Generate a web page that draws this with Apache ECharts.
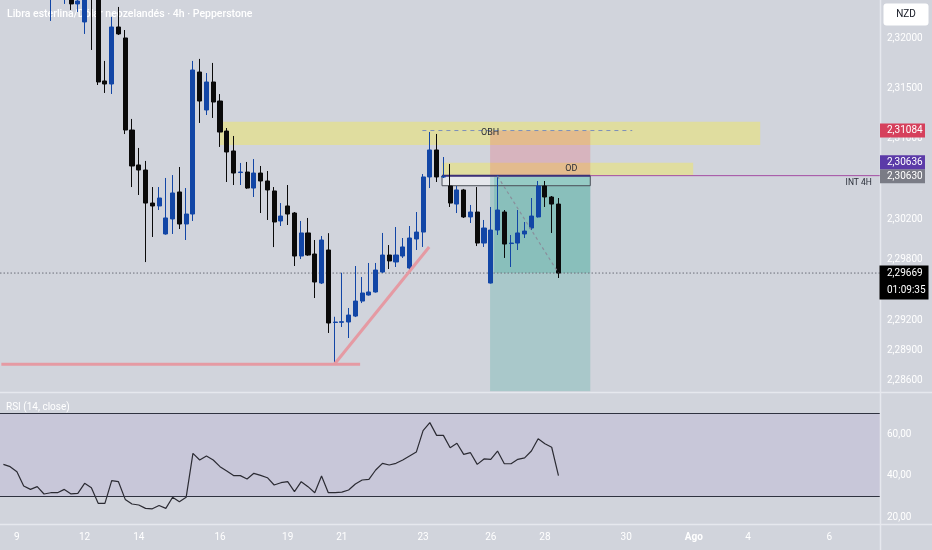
<!DOCTYPE html>
<html><head><meta charset="utf-8">
<script src="https://cdn.jsdelivr.net/npm/echarts@6/dist/echarts.min.js"></script>
<style>html,body{margin:0;padding:0;background:#d1d4dc;}#c{width:932px;height:550px;}</style>
</head><body><div id="c"></div>
<script>
// ---------- data ----------
const barOpen = [2.33350,2.33300,2.33240,2.33150,2.32780,2.32720,2.32790,2.32560,2.32590,2.32585,
2.32650,2.32341,2.32162,2.32580,2.32500,2.31576,2.31546,2.32112,2.32003,2.31089,
2.30742,2.30692,2.30364,2.30335,2.30057,2.30206,2.30474,2.30156,2.30255,2.31665,
2.31288,2.31566,2.31377,2.31079,2.30881,2.30667,2.30672,2.30513,2.30662,2.30583,
2.30484,2.30186,2.30335,2.30265,2.29838,2.30067,2.29858,2.29570,2.29898,2.29178,
2.29180,2.29183,2.29242,2.29391,2.29451,2.29481,2.29679,2.29848,2.29779,2.29838,
2.29719,2.30007,2.30076,2.30623,2.30891,2.30623,2.30533,2.30354,2.30494,2.30226,
2.30275,2.29967,2.29570,2.30096,2.30275,2.29962,2.29967,2.30057,2.30116,2.30226,
2.30533,2.30424,2.30354];
const barClose = [2.33300,2.33240,2.33150,2.32780,2.32720,2.32790,2.32560,2.32590,2.32585,2.32650,
2.32341,2.32370,2.32580,2.32500,2.31566,2.31546,2.32112,2.32043,2.31089,2.30732,
2.30692,2.30364,2.30335,2.30414,2.30216,2.30464,2.30156,2.30255,2.31685,2.31377,
2.31566,2.31367,2.31069,2.30871,2.30662,2.30672,2.30513,2.30662,2.30583,2.30494,
2.30176,2.30235,2.30255,2.29838,2.30067,2.29848,2.29580,2.29997,2.29173,2.29183,
2.29186,2.29252,2.29391,2.29471,2.29481,2.29699,2.29848,2.29789,2.29848,2.29928,
2.30017,2.30076,2.30623,2.30891,2.30623,2.30626,2.30364,2.30494,2.30226,2.30275,
2.29967,2.30116,2.30096,2.30295,2.29957,2.29967,2.30067,2.30086,2.30235,2.30533,
2.30424,2.30354,2.29669];
const barLow = [2.33220,2.33180,2.33090,2.32740,2.32640,2.32690,2.32520,2.32172,2.32480,2.32341,
2.32281,2.32261,2.32043,2.31884,2.31536,2.31457,2.31447,2.32033,2.31049,2.30523,
2.30444,2.29778,2.30027,2.30295,2.30050,2.30057,2.30106,2.29997,2.30186,2.31159,
2.31238,2.31209,2.30921,2.30573,2.30543,2.30543,2.30505,2.30424,2.30265,2.30196,
2.29927,2.30136,2.30146,2.29739,2.29808,2.29840,2.29421,2.29560,2.29074,2.28786,
2.29133,2.29024,2.29232,2.29371,2.29445,2.29475,2.29670,2.29709,2.29729,2.29819,
2.29699,2.29898,2.29928,2.30513,2.30573,2.30613,2.30325,2.30265,2.30216,2.30166,
2.29937,2.29928,2.29565,2.30047,2.29819,2.29729,2.29898,2.30017,2.30096,2.30220,
2.30325,2.30067,2.29620];
const barHigh = [2.33420,2.33350,2.33290,2.33180,2.32850,2.32840,2.32810,2.32640,2.32650,2.32700,
2.32680,2.32400,2.32620,2.32620,2.32520,2.31775,2.32212,2.32311,2.32082,2.31199,
2.30911,2.30782,2.30523,2.30523,2.30613,2.30642,2.30722,2.30513,2.31775,2.31795,
2.31655,2.31755,2.31446,2.31109,2.31030,2.30762,2.30772,2.30801,2.30732,2.30682,
2.30523,2.30364,2.30543,2.30275,2.30186,2.30216,2.29997,2.30037,2.30065,2.29235,
2.29672,2.29322,2.29739,2.29630,2.29769,2.29769,2.30067,2.29947,2.30126,2.30017,
2.30136,2.30275,2.30652,2.31070,2.31050,2.30821,2.30752,2.30533,2.30504,2.30345,
2.30523,2.30196,2.30325,2.30642,2.30295,2.30047,2.30295,2.30176,2.30414,2.30583,
2.30583,2.30434,2.30414];
const rsiValues = [45.5,44.4,42.0,35.1,33.5,34.8,31.3,31.9,31.9,33.5,
31.3,31.6,36.4,34.3,26.8,26.8,37.7,37.2,28.7,26.5,
26.0,24.4,24.2,25.8,24.4,29.7,27.6,29.7,50.8,47.6,
49.5,47.6,44.4,42.3,40.1,40.1,38.5,41.2,40.2,39.1,
35.6,36.7,37.2,32.4,37.2,34.8,31.9,39.9,31.9,31.9,
32.2,33.2,36.1,38.0,38.3,42.8,46.0,45.2,46.0,47.6,
49.5,51.4,61.7,65.5,59.4,59.4,53.5,55.6,50.3,51.1,
45.5,48.1,47.9,51.9,45.8,45.8,47.9,48.6,51.9,57.8,
55.4,53.7,40.1];
const barCount = 130; // visible bar slots incl. future space
const dayLabels = ['9','12','14','16','19','21','23','26','28','30','Ago','4','6'];
const dayLabelBars = [2,12,20,32,42,50,62,72,80,92,102,110,122];
const priceTicks = [2.32,2.315,2.31,2.302,2.298,2.292,2.289,2.286];
const rsiTicks = [20,40,60];
const rsiBands = [30,70];
// drawing tools (bar position, price)
const supplyZone = [31.9, 111.8, 2.31172, 2.30940];
const odZone = [64.8, 101.9, 2.30765, 2.30636];
const positionBars = [71.9, 86.7];
const stopPrice = 2.31084, entryPrice = 2.30630, targetPrice = 2.28495, lastPrice = 2.29669;
const entryBar = 73, lastBar = 82;
const intLevel = 2.30636;
const intBox = [64.8, 86.7, 2.30636, 2.30536];
const obhLine = [61.9, 92.9, 2.31084];
const supportLine = [-0.3, 52.7, 2.28763];
const trendLine = [48.9, 2.28763, 62.9, 2.29927];
const countdown = '01:09:35';

// ---------- build ----------
const cats = Array.from({length: barCount}, (_, i) => String(i));
const labelMap = {};
dayLabelBars.forEach((b, i) => { labelMap[String(b)] = dayLabels[i]; });
const candles = barOpen.map((o, i) => [o, barClose[i], barLow[i], barHigh[i]]);
const fmtP = v => v.toFixed(5).replace('.', ',');
const FONT = 'Roboto, "Liberation Sans", sans-serif';

const YEL = 'rgba(251,236,60,0.38)';
const drawingsUnder = [
  {k:'rect', x0:supplyZone[0], x1:supplyZone[1], p0:supplyZone[2], p1:supplyZone[3], s:{fill:YEL}},
  {k:'rect', x0:odZone[0], x1:odZone[1], p0:odZone[2], p1:odZone[3], s:{fill:YEL}},
  {k:'rect', x0:intBox[0], x1:intBox[1], p0:intBox[2], p1:intBox[3], s:{fill:'rgba(245,245,250,0.55)'}},
  {k:'rect', x0:positionBars[0], x1:positionBars[1], p0:stopPrice, p1:entryPrice, s:{fill:'rgba(242,54,69,0.2)'}},
  {k:'rect', x0:positionBars[0], x1:positionBars[1], p0:entryPrice, p1:targetPrice, s:{fill:'rgba(8,153,129,0.2)'}},
  {k:'rect', x0:positionBars[0]+0.6, x1:positionBars[1], p0:entryPrice, p1:lastPrice, s:{fill:'rgba(8,153,129,0.2)'}},
  {k:'rect', x0:intBox[0], x1:intBox[1], p0:intBox[2], p1:intBox[3], s:{fill:'none', stroke:'#4a4d57', lineWidth:1}},
  {k:'line', x0:intBox[1], p0:intLevel, x1:barCount-0.5, p1:intLevel, s:{stroke:'#a44ca4', lineWidth:1}},
  {k:'line', x0:intBox[0], p0:intLevel, x1:intBox[1], p1:intLevel, s:{stroke:'#3c2f78', lineWidth:2}},
  {k:'line', x0:-0.5, p0:lastPrice, x1:barCount-0.5, p1:lastPrice, s:{stroke:'#6b6e78', lineWidth:1, lineDash:[1.5,2]}}
];
const drawingsOver = [
  {k:'line', x0:obhLine[0], p0:obhLine[2], x1:obhLine[1], p1:obhLine[2], s:{stroke:'#7c8fb8', lineWidth:1, lineDash:[4,4]}},
  {k:'line', x0:entryBar, p0:entryPrice, x1:lastBar, p1:lastPrice, s:{stroke:'#8a8f9c', lineWidth:1.2, lineDash:[3,3]}},
  {k:'line', x0:supportLine[0], p0:supportLine[2], x1:supportLine[1], p1:supportLine[2], s:{stroke:'#e59aa3', lineWidth:3}},
  {k:'line', x0:trendLine[0], p0:trendLine[1], x1:trendLine[2], p1:trendLine[3], s:{stroke:'#e59aa3', lineWidth:3}},
  {k:'text', x0:71.9, p0:obhLine[2], t:'OBH', dy:2, s:{fill:'#2a2e39', fontSize:9, fontFamily:FONT, align:'center', verticalAlign:'middle'}},
  {k:'text', x0:83.9, p0:2.30700, t:'OD', dy:0, s:{fill:'#2a2e39', fontSize:9, fontFamily:FONT, align:'center', verticalAlign:'middle'}},
  {k:'text', x0:128.3, p0:intLevel, t:'INT 4H', dy:7, s:{fill:'#2a2e39', fontSize:8.5, fontFamily:FONT, align:'right', verticalAlign:'middle'}}
];
function renderer(list) {
  return function (params, api) {
    const d = list[params.dataIndex];
    const a = api.coord([d.x0, d.p0]);
    if (d.k === 'text') {
      return {type:'text', x:a[0], y:a[1] + d.dy, style:Object.assign({text:d.t}, d.s)};
    }
    const b = api.coord([d.x1, d.p1]);
    if (d.k === 'rect') {
      return {type:'rect', shape:{x:Math.min(a[0],b[0]), y:Math.min(a[1],b[1]), width:Math.abs(b[0]-a[0]), height:Math.abs(b[1]-a[1])}, style:d.s};
    }
    return {type:'line', shape:{x1:a[0], y1:a[1], x2:b[0], y2:b[1]}, style:d.s};
  };
}

const chart = echarts.init(document.getElementById('c'), null, {width:932, height:550});
const yMin = 2.28488, yMax = 2.32380;
chart.setOption({
  animation: false,
  backgroundColor: '#d1d4dc',
  grid: [
    {left:-2, top:0, width:882, height:392},
    {left:-2, top:392, width:882, height:132}
  ],
  xAxis: [
    {type:'category', gridIndex:0, data:cats, show:false, boundaryGap:true},
    {type:'value', gridIndex:0, min:-0.5, max:barCount-0.5, show:false},
    {type:'category', gridIndex:1, data:cats, boundaryGap:true,
     axisLine:{show:false}, axisTick:{show:false}, splitLine:{show:false},
     axisLabel:{interval:0, margin:8, color:'#ffffff', fontSize:10, fontFamily:FONT,
       formatter: v => { const l = labelMap[v]; if (!l) return ''; return l === 'Ago' ? '{b|Ago}' : l; },
       rich:{b:{fontWeight:'bold', color:'#ffffff', fontSize:10, fontFamily:FONT}}}}
  ],
  yAxis: [
    {type:'value', gridIndex:0, position:'right', min:yMin, max:yMax,
     axisLine:{show:false}, axisTick:{show:false}, splitLine:{show:false},
     axisLabel:{customValues:priceTicks, formatter:v => fmtP(v), color:'#ffffff', fontSize:10, fontFamily:FONT, margin:7}},
    {type:'value', gridIndex:1, position:'right', min:16.9, max:80.2,
     axisLine:{show:false}, axisTick:{show:false}, splitLine:{show:false},
     axisLabel:{customValues:rsiTicks, formatter:v => v.toFixed(2).replace('.', ','), color:'#ffffff', fontSize:10, fontFamily:FONT, margin:7}}
  ],
  series: [
    {type:'custom', name:'zones', xAxisIndex:1, yAxisIndex:0, z:1, silent:true,
     data: drawingsUnder.map((d, i) => [d.x0, d.p0, i]), renderItem: renderer(drawingsUnder)},
    {type:'candlestick', name:'GBPNZD', xAxisIndex:0, yAxisIndex:0, z:2, barWidth:4.6, clip:true, silent:true,
     data: candles,
     itemStyle:{color:'#1246a6', color0:'#0a0a0a', borderColor:'#1246a6', borderColor0:'#0a0a0a', borderWidth:1}},
    {type:'custom', name:'tools', xAxisIndex:1, yAxisIndex:0, z:3, silent:true,
     data: drawingsOver.map((d, i) => [d.x0, d.p0, i]), renderItem: renderer(drawingsOver)},
    {type:'line', name:'RSI', xAxisIndex:2, yAxisIndex:1, data:rsiValues, showSymbol:false, symbol:'none', silent:true,
     lineStyle:{color:'#2b2b33', width:1.2},
     markArea:{silent:true, itemStyle:{color:'rgba(126,87,194,0.1)'}, data:[[{yAxis:rsiBands[0]}, {yAxis:rsiBands[1]}]]},
     markLine:{silent:true, symbol:'none', label:{show:false}, lineStyle:{color:'#2f3240', type:'solid', width:1},
       data:rsiBands.map(v => ({yAxis:v}))}}
  ]
});

function tag(price, bg, yOffset, w) {
  const y = chart.convertToPixel({yAxisIndex:0}, price) + yOffset;
  return {type:'group', z:100, children:[
    {type:'rect', shape:{x:880, y:y-7, width:w, height:14}, style:{fill:bg}, z:100},
    {type:'text', x:887, y:y, style:{text:fmtP(price), fill:'#ffffff', fontSize:10, fontFamily:FONT, verticalAlign:'middle'}, z:101}
  ]};
}
const yLast = chart.convertToPixel({yAxisIndex:0}, lastPrice);
chart.setOption({graphic:{elements:[
  {type:'text', left:7, top:9, z:0, style:{text:'Libra esterlina/Dólar neozelandés · 4h · Pepperstone', fill:'#ffffff', fontSize:10.5, fontWeight:'500', fontFamily:FONT}},
  {type:'text', left:6, top:402, z:0, style:{text:'RSI (14, close)', fill:'#ffffff', fontSize:10, fontFamily:FONT}},
  {type:'line', z:5, shape:{x1:0, y1:392.5, x2:932, y2:392.5}, style:{stroke:'#e6e8ee', lineWidth:1.5}},
  {type:'line', z:5, shape:{x1:0, y1:524.5, x2:932, y2:524.5}, style:{stroke:'#e6e8ee', lineWidth:1.5}},
  {type:'line', z:5, shape:{x1:880.5, y1:0, x2:880.5, y2:550}, style:{stroke:'#e6e8ee', lineWidth:1.5}},
  {type:'group', z:100, children:[
    {type:'rect', shape:{x:883.5, y:3.5, width:45, height:22, r:3}, style:{fill:'#ffffff'}, z:100},
    {type:'text', x:906, y:14.5, style:{text:'NZD', fill:'#131722', fontSize:10, fontFamily:FONT, align:'center', verticalAlign:'middle'}, z:101}
  ]},
  tag(stopPrice, '#d6405c', 0, 45),
  tag(entryPrice, '#7a7c86', 0, 45),
  tag(intLevel, '#5b3aa8', -13.5, 45),
  {type:'group', z:100, children:[
    {type:'rect', shape:{x:879.5, y:yLast-7.5, width:49, height:34}, style:{fill:'#000000'}, z:100},
    {type:'text', x:887, y:yLast, style:{text:fmtP(lastPrice), fill:'#ffffff', fontSize:10, fontFamily:FONT, verticalAlign:'middle'}, z:101},
    {type:'text', x:887, y:yLast+17, style:{text:countdown, fill:'#ffffff', fontSize:10, fontFamily:FONT, verticalAlign:'middle'}, z:101}
  ]}
]}});
</script></body></html>
